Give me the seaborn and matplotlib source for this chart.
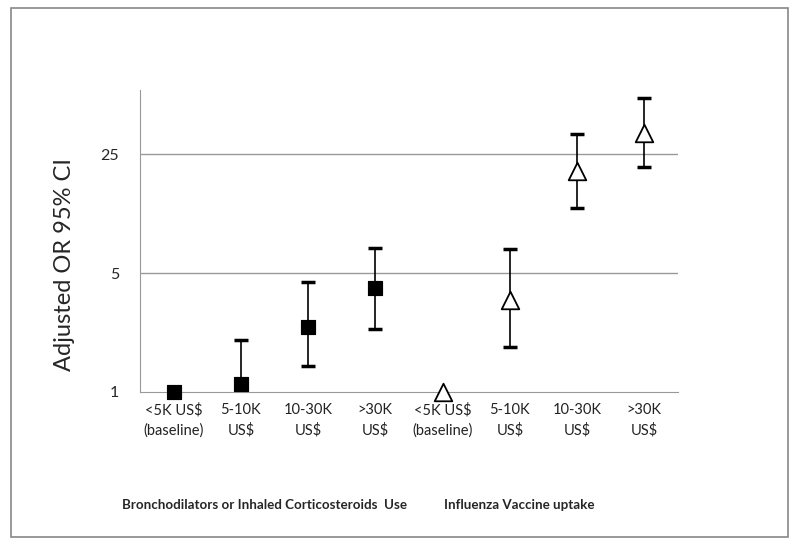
import pandas as pd
import numpy as np
import matplotlib
matplotlib.use('Agg')
import matplotlib.pyplot as plt
import seaborn as sns
from matplotlib.patches import Rectangle

# values
tick_labels = ['<5K US$\n(baseline)', '5-10K\nUS$', '10-30K\nUS$', '>30K\nUS$',
               '<5K US$\n(baseline)', '5-10K\nUS$', '10-30K\nUS$', '>30K\nUS$']
groups = ['Bronchodilators', 'Bronchodilators', 'Bronchodilators', 'Bronchodilators',
          'Influenza', 'Influenza', 'Influenza', 'Influenza']
odds_ratio = [1.0, 1.11, 2.41, 4.11, 1.0, 3.47, 19.9, 33.4]
ci_lower = [1.0, 1.06, 1.42, 2.34, 1.0, 1.83, 12.1, 21.2]
ci_upper = [1.0, 2.03, 4.45, 7.0, 1.0, 6.94, 33.2, 53.5]

df = pd.DataFrame({'pos': range(len(odds_ratio)), 'label': tick_labels,
                   'group': groups, 'OR': odds_ratio,
                   'lo': ci_lower, 'hi': ci_upper})

sns.set_style('white')
plt.rcParams['font.family'] = ['Lato', 'DejaVu Sans']

fig = plt.figure(figsize=(8, 5.46), dpi=100)
ax = fig.add_axes([0.175, 0.2826, 0.6725, 0.5526])

# error bars (only where an interval exists)
ci = df[df['hi'] > df['lo']]
ax.errorbar(ci['pos'], ci['OR'],
            yerr=[ci['OR'] - ci['lo'], ci['hi'] - ci['OR']],
            fmt='none', ecolor='black', elinewidth=1.2, capsize=5, capthick=2.5, zorder=2)

sq = df[df['group'] == 'Bronchodilators']
tri = df[df['group'] == 'Influenza']
sns.scatterplot(data=sq, x='pos', y='OR', marker='s', s=110, color='black',
                edgecolor='black', ax=ax, zorder=3, legend=False, clip_on=False)
sns.scatterplot(data=tri, x='pos', y='OR', marker='^', s=160, facecolor='white',
                edgecolor='black', linewidth=1.3, ax=ax, zorder=3, legend=False,
                clip_on=False)

ax.set_yscale('log')
ax.set_ylim(1, 60)
ax.set_xlim(-0.5, 7.5)
ax.set_yticks([1, 5, 25])
ax.set_yticklabels(['1', '5', '25'])
ax.yaxis.set_minor_locator(matplotlib.ticker.NullLocator())
ax.set_xticks(df['pos'])
ax.set_xticklabels(df['label'], fontsize=10.5, color='#222222', linespacing=1.5)
ax.tick_params(axis='both', length=0, pad=8)
ax.tick_params(axis='y', labelsize=11.5, pad=15)
for v in [5, 25]:
    ax.axhline(v, color='#999999', linewidth=1, zorder=1)

for s in ['top', 'right']:
    ax.spines[s].set_visible(False)
ax.spines['left'].set_color('#999999')
ax.spines['bottom'].set_color('#999999')
ax.set_xlabel('')
ax.set_ylabel('Adjusted OR 95% CI', fontsize=17)
ax.yaxis.set_label_coords(-0.121, 0.42)

fig.text(265 / 800, 1 - 505 / 546, 'Bronchodilators or Inhaled Corticosteroids  Use',
         ha='center', va='center', fontsize=9.6, fontweight='bold')
fig.text(519 / 800, 1 - 505 / 546, 'Influenza Vaccine uptake',
         ha='center', va='center', fontsize=9.6, fontweight='bold')

fig.patches.append(Rectangle((11 / 800, 1 - 537 / 546), 777 / 800, 529 / 546,
                             transform=fig.transFigure, fill=False,
                             edgecolor='#888888', linewidth=1.2))

fig.savefig('out.png', dpi=100)
